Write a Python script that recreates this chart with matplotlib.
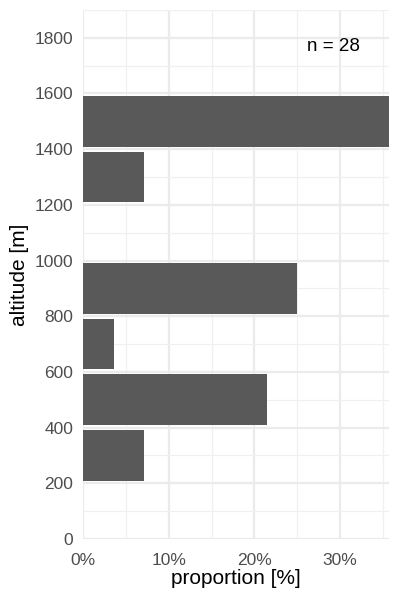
import matplotlib
matplotlib.use("Agg")
import matplotlib.pyplot as plt
import numpy as np

plt.rcParams["font.family"] = ["Liberation Sans", "DejaVu Sans"]

# altitude bins (lower edge, m) and counts, n = 28
bin_lo = [200, 400, 600, 800, 1200, 1400]
counts = [2, 6, 1, 7, 2, 10]
n_total = 28
bin_width = 200

prop = np.array(counts) / n_total * 100
centers = np.array(bin_lo) + bin_width / 2

fig = plt.figure(figsize=(4, 6), dpi=100)
ax = fig.add_axes([0.2075, 0.1017, 0.765, 0.8817])

ax.barh(centers, prop, height=bin_width * 0.91, color="#595959", zorder=3)

ax.set_xlim(0, prop.max())
ax.set_ylim(0, 1900)
ax.set_xticks([0, 10, 20, 30])
ax.set_xticklabels(["0%", "10%", "20%", "30%"])
ax.set_xticks([5, 15, 25, 35], minor=True)
ax.set_yticks(np.arange(0, 1801, 200))
ax.set_yticks(np.arange(100, 1901, 200), minor=True)

ax.grid(which="major", color="#EBEBEB", linewidth=1.6, zorder=0)
ax.grid(which="minor", color="#F0F0F0", linewidth=0.9, zorder=0)
for s in ax.spines.values():
    s.set_visible(False)
ax.tick_params(which="both", length=0, labelsize=12.5, labelcolor="#4D4D4D")
ax.tick_params(axis="y", pad=7)
ax.tick_params(axis="x", pad=10)

ax.set_xlabel("proportion [%]", fontsize=15, color="black", labelpad=1)
ax.set_ylabel("altitude [m]", fontsize=15, color="black", labelpad=4)

ax.text(29.2, 1768, "n = %d" % n_total, fontsize=13.5, ha="center", va="center", color="black")

fig.savefig("out.png", dpi=100)
